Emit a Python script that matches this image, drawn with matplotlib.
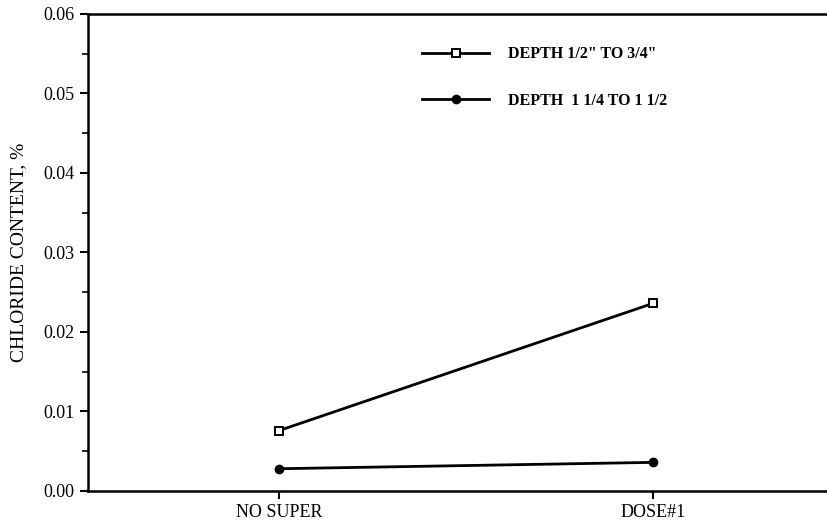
import matplotlib.pyplot as plt
from matplotlib.ticker import MultipleLocator

plt.rcParams['font.family'] = ['Liberation Serif', 'DejaVu Serif']

# data
categories = ["NO SUPER", "DOSE#1"]
depth_shallow = [0.0076, 0.0236]
depth_deep = [0.0028, 0.0036]
labels = ['DEPTH 1/2" TO 3/4"', 'DEPTH  1 1/4 TO 1 1/2']

fig = plt.figure(figsize=(8.28, 5.28), dpi=100)
ax = fig.add_axes([0.1063, 0.0701, 0.8937, 0.9034])

x = [1, 2]
ax.plot(x, depth_shallow, color='black', lw=2, marker='s', ms=6,
        mfc='white', mec='black', mew=1.4, label=labels[0])
ax.plot(x, depth_deep, color='black', lw=2, marker='o', ms=6,
        label=labels[1])

ax.set_xlim(0.489, 2.468)
ax.set_ylim(0, 0.06)
ax.set_xticks(x)
ax.set_xticklabels(categories, fontsize=13)
ax.yaxis.set_major_locator(MultipleLocator(0.01))
ax.yaxis.set_minor_locator(MultipleLocator(0.005))
ax.set_yticklabels([f"{v:.2f}" for v in ax.get_yticks()], fontsize=13)
ax.tick_params(axis='both', which='major', length=6, width=1.5, direction='out')
ax.tick_params(axis='y', which='minor', length=4, width=1.2, direction='out')
ax.set_ylabel("CHLORIDE CONTENT, %", fontsize=14, labelpad=12)

for s in ['left', 'bottom', 'top']:
    ax.spines[s].set_linewidth(1.8)
ax.spines['right'].set_visible(False)

ax.legend(loc='upper left', bbox_to_anchor=(0.432, 0.962), frameon=False,
          handlelength=4.2, handletextpad=1.2, labelspacing=1.9,
          prop={'weight': 'bold', 'size': 11.5})

fig.savefig("out.png", dpi=100)
